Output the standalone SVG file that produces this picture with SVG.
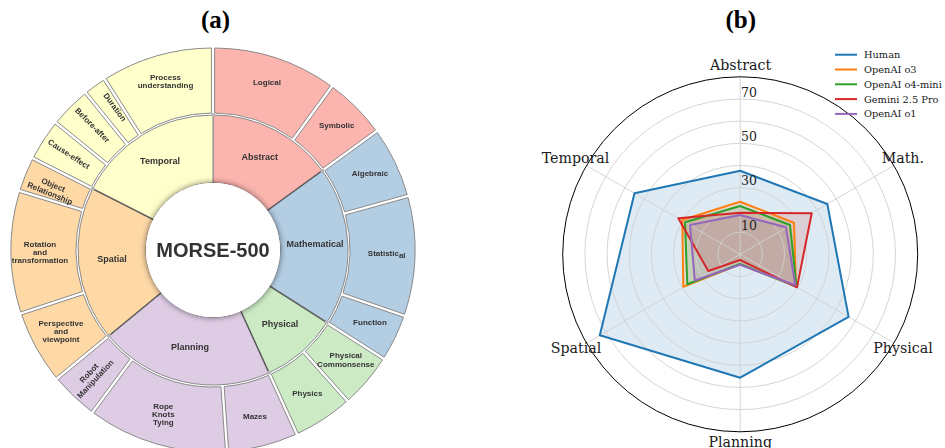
<svg xmlns="http://www.w3.org/2000/svg" width="945" height="448" viewBox="0 0 945 448">
<style>
.seg{stroke:#8a8a8a;stroke-width:1;stroke-linejoin:round}
.ab{fill:#fbb4ae}.ma{fill:#b3cde3}.ph{fill:#ccebc5}.pl{fill:#decbe4}.sp{fill:#fed9a6}.te{fill:#ffffcc}
.lbl{font-family:"Liberation Sans",Arial,sans-serif;font-weight:bold;fill:#333;text-anchor:middle}
.in{font-size:9px}.out{font-size:8px}
.ser{font-family:"DejaVu Serif",serif;fill:#1a1a1a}
.ax{font-size:14.2px}
.tick{font-size:12.5px;fill:#262626}
.leg{font-size:9.8px}
.grid{fill:none;stroke:#d0d0d0;stroke-width:0.9}
.shl{stroke:#333;stroke-width:1.6;opacity:0.55}
.title{font-family:"Liberation Serif","Times New Roman",serif;font-weight:bold;font-size:25px;fill:#000;text-anchor:middle}
</style>
<defs>
<filter id="sh" x="-30%" y="-30%" width="160%" height="160%"><feDropShadow dx="0" dy="0" stdDeviation="3" flood-color="#000" flood-opacity="0.6"/></filter>
<filter id="bl" x="-10%" y="-10%" width="120%" height="120%"><feGaussianBlur stdDeviation="0.7"/></filter>
</defs>
<rect width="945" height="448" fill="#fff"/>
<text class="title" x="215.5" y="28">(a)</text>
<text class="title" x="740.7" y="28">(b)</text>

<!-- Sunburst: inner ring -->
<g id="inner-ring">
<g id="n-abstract"><path class="seg ab" d="M213,115 A135,135 0 0 1 322.22,170.65 L267.2,210.62 A67,67 0 0 0 213,183 Z"/></g>
<g id="n-mathematical"><path class="seg ma" d="M322.22,170.65 A135,135 0 0 1 326.86,322.54 L269.51,286 A67,67 0 0 0 267.2,210.62 Z"/></g>
<g id="n-physical"><path class="seg ph" d="M326.86,322.54 A135,135 0 0 1 268.98,372.85 L240.78,310.97 A67,67 0 0 0 269.51,286 Z"/></g>
<g id="n-planning"><path class="seg pl" d="M268.98,372.85 A135,135 0 0 1 108.83,335.87 L161.3,292.62 A67,67 0 0 0 240.78,310.97 Z"/></g>
<g id="n-spatial"><path class="seg sp" d="M108.83,335.87 A135,135 0 0 1 92.71,188.71 L153.3,219.58 A67,67 0 0 0 161.3,292.62 Z"/></g>
<g id="n-temporal"><path class="seg te" d="M92.71,188.71 A135,135 0 0 1 213,115 L213,183 A67,67 0 0 0 153.3,219.58 Z"/></g>
</g>
<g id="inner-shadows" filter="url(#bl)">
<line class="shl" x1="267.2" y1="210.62" x2="322.22" y2="170.65"/>
<line class="shl" x1="269.51" y1="286" x2="326.86" y2="322.54"/>
<line class="shl" x1="240.78" y1="310.97" x2="268.98" y2="372.85"/>
<line class="shl" x1="161.3" y1="292.62" x2="108.83" y2="335.87"/>
<line class="shl" x1="153.3" y1="219.58" x2="92.71" y2="188.71"/>
</g>
<g id="junctions" fill="#b5b5b5">
<circle cx="213" cy="115" r="2"/><circle cx="322.22" cy="170.65" r="2"/><circle cx="326.86" cy="322.54" r="2"/>
<circle cx="268.98" cy="372.85" r="2"/><circle cx="108.83" cy="335.87" r="2"/><circle cx="92.71" cy="188.71" r="2"/>
</g>
<g id="n-center">
<circle cx="213" cy="250" r="67" fill="#fff" filter="url(#sh)"/>
<circle cx="213" cy="250" r="67" fill="#fff"/>
<text class="lbl" x="213" y="257.3" style="font-size:20px;fill:#333">MORSE-500</text>
</g>

<!-- Sunburst: outer ring -->
<g id="outer-ring">
<g id="n-logical"><path class="seg ab" d="M214.6,48 A202,202 0 0 1 330.45,85.64 L292.24,138.23 A137,137 0 0 0 214.6,113 Z"/></g>
<g id="n-symbolic"><path class="seg ab" d="M333.03,87.52 A202,202 0 0 1 375.48,129.97 L322.89,168.18 A137,137 0 0 0 294.82,140.11 Z"/></g>
<g id="n-algebraic"><path class="seg ma" d="M377.36,132.55 A202,202 0 0 1 407.22,194.49 L344.58,211.85 A137,137 0 0 0 324.77,170.76 Z"/></g>
<g id="n-statistical"><path class="seg ma" d="M408.08,197.57 A202,202 0 0 1 404.51,314.26 L343.05,293.1 A137,137 0 0 0 345.44,214.93 Z"/></g>
<g id="n-function"><path class="seg ma" d="M403.47,317.28 A202,202 0 0 1 384.23,357.18 L329.41,322.26 A137,137 0 0 0 342.01,296.12 Z"/></g>
<g id="n-physcommon"><path class="seg ph" d="M382.51,359.88 A202,202 0 0 1 348.56,399.75 L305.32,351.22 A137,137 0 0 0 327.69,324.96 Z"/></g>
<g id="n-physics"><path class="seg ph" d="M346.18,401.87 A202,202 0 0 1 298.23,433.16 L271.27,374.01 A137,137 0 0 0 302.94,353.34 Z"/></g>
<g id="n-mazes"><path class="seg pl" d="M295.31,434.48 A202,202 0 0 1 228.7,451.41 L224.16,386.56 A137,137 0 0 0 268.35,375.33 Z"/></g>
<g id="n-rope"><path class="seg pl" d="M225.5,451.63 A202,202 0 0 1 93.85,413.12 L132.6,360.93 A137,137 0 0 0 220.96,386.78 Z"/></g>
<g id="n-robot"><path class="seg pl" d="M91.29,411.22 A202,202 0 0 1 58.16,379.72 L108.31,338.38 A137,137 0 0 0 130.04,359.03 Z"/></g>
<g id="n-perspective"><path class="seg sp" d="M56.12,377.26 A202,202 0 0 1 21.72,314.95 L83.43,294.54 A137,137 0 0 0 106.27,335.92 Z"/></g>
<g id="n-rotation"><path class="seg sp" d="M20.72,311.91 A202,202 0 0 1 19.36,192.47 L81.52,211.47 A137,137 0 0 0 82.43,291.5 Z"/></g>
<g id="n-objrel"><path class="seg sp" d="M20.3,189.41 A202,202 0 0 1 32.29,159.72 L90.2,189.23 A137,137 0 0 0 82.46,208.41 Z"/></g>
<g id="n-cause"><path class="seg te" d="M33.75,156.86 A202,202 0 0 1 55.02,124.12 L105.53,165.03 A137,137 0 0 0 91.66,186.37 Z"/></g>
<g id="n-before"><path class="seg te" d="M57.04,121.64 A202,202 0 0 1 84.64,94.04 L125.55,144.55 A137,137 0 0 0 107.55,162.55 Z"/></g>
<g id="n-duration"><path class="seg te" d="M87.12,92.02 A202,202 0 0 1 103.42,80.31 L138.25,135.19 A137,137 0 0 0 128.03,142.53 Z"/></g>
<g id="n-process"><path class="seg te" d="M106.12,78.59 A202,202 0 0 1 211.4,48 L211.4,113 A137,137 0 0 0 140.95,133.47 Z"/></g>
</g>

<!-- Sunburst labels -->
<g id="labels-inner" class="lbl in">
<text x="259.7" y="160.2">Abstract</text>
<text x="315" y="247.2">Mathematical</text>
<text x="280" y="327.2">Physical</text>
<text x="190" y="350.2">Planning</text>
<text x="112" y="262.2">Spatial</text>
<text x="160" y="163.7">Temporal</text>
</g>
<g id="labels-outer" class="lbl out">
<text x="267" y="85.2">Logical</text>
<text x="336.7" y="127.9">Symbolic</text>
<text x="370" y="176.2">Algebraic</text>
<text x="386.7" y="255.5">Statistic<tspan dy="2">al</tspan></text>
<text x="370" y="324.9">Function</text>
<text x="345.8" y="357.9">Physical</text>
<text x="345.8" y="367.2">Commonsense</text>
<text x="307.3" y="396.2">Physics</text>
<text x="255" y="418.9">Mazes</text>
<text x="163.3" y="408.9">Rope</text>
<text x="163.3" y="417.1">Knots</text>
<text x="163.3" y="425.3">Tying</text>
<text x="40" y="247.2">Rotation</text>
<text x="40" y="255.2">and</text>
<text x="40" y="263.2">transformation</text>
<text x="61" y="326.2">Perspective</text>
<text x="61" y="334.1">and</text>
<text x="61" y="342">viewpoint</text>
<text x="165.5" y="80.2">Process</text>
<text x="165.5" y="88">understanding</text>
<g transform="translate(92,376) rotate(-47)"><text x="0" y="-1.4">Robot</text><text x="0" y="7.2">Manipulation</text></g>
<g transform="translate(51.7,189) rotate(22)"><text x="0" y="-1.6">Object</text><text x="0" y="7.4">Relationship</text></g>
<g transform="translate(69,154) rotate(33)"><text x="0" y="2.9">Cause-effect</text></g>
<g transform="translate(92.5,125) rotate(45)"><text x="0" y="2.9">Before-after</text></g>
<g transform="translate(115,107) rotate(54)"><text x="0" y="2.9">Duration</text></g>
</g>

<!-- Radar chart -->
<g id="radar-fills" stroke="none">
<polygon fill="#1f77b4" fill-opacity="0.15" points="740.2,170.8 827.3,204 848.6,316.9 740.2,377.7 599.8,335.3 634.5,193.3"/>
<polygon fill="#ff7f0e" fill-opacity="0.15" points="740,201.7 794,222.7 796,286.3 740,264.3 683.3,286.7 682.3,220"/>
<polygon fill="#2ca02c" fill-opacity="0.15" points="740,206 790,225 796.5,286.6 740,264 687.3,284.3 685,222.3"/>
<polygon fill="#d62728" fill-opacity="0.15" points="740,212.7 811.7,213.3 797,287.3 740,260 708.3,271 678.3,218.3"/>
<polygon fill="#9467bd" fill-opacity="0.15" points="740,215 786,227.3 795.3,285.3 740,264.7 694.8,280.5 690,225"/>
</g>
<g id="radar-grid" class="grid">
<circle cx="740.2" cy="254.3" r="22.19"/><circle cx="740.2" cy="254.3" r="44.38"/><circle cx="740.2" cy="254.3" r="66.56"/>
<circle cx="740.2" cy="254.3" r="88.75"/><circle cx="740.2" cy="254.3" r="110.94"/><circle cx="740.2" cy="254.3" r="133.13"/>
<circle cx="740.2" cy="254.3" r="155.31"/>
<line x1="740.2" y1="76.8" x2="740.2" y2="431.8"/>
<line x1="893.9" y1="165.55" x2="586.5" y2="343.05"/>
<line x1="893.9" y1="343.05" x2="586.5" y2="165.55"/>
</g>
<circle id="radar-spine" cx="740.2" cy="254.3" r="177.5" fill="none" stroke="#000" stroke-width="1"/>
<g id="radar-lines" fill="none" stroke-width="2" stroke-linejoin="round">
<polygon stroke="#1f77b4" points="740.2,170.8 827.3,204 848.6,316.9 740.2,377.7 599.8,335.3 634.5,193.3"/>
<polygon stroke="#ff7f0e" points="740,201.7 794,222.7 796,286.3 740,264.3 683.3,286.7 682.3,220"/>
<polygon stroke="#2ca02c" points="740,206 790,225 796.5,286.6 740,264 687.3,284.3 685,222.3"/>
<polygon stroke="#d62728" points="740,212.7 811.7,213.3 797,287.3 740,260 708.3,271 678.3,218.3"/>
<polygon stroke="#9467bd" points="740,215 786,227.3 795.3,285.3 740,264.7 694.8,280.5 690,225"/>
</g>
<g id="radar-ticks" class="ser tick">
<text x="741" y="96.7">70</text>
<text x="741" y="141">50</text>
<text x="741" y="185">30</text>
<text x="741" y="230">10</text>
</g>
<g id="radar-axes" class="ser ax">
<text x="740.5" y="69.5" text-anchor="middle">Abstract</text>
<text x="881.7" y="163.3">Math.</text>
<text x="873.3" y="353.3">Physical</text>
<text x="740.2" y="447.3" text-anchor="middle">Planning</text>
<text x="550.7" y="353.3">Spatial</text>
<text x="541.7" y="163.3">Temporal</text>
</g>
<g id="legend" class="ser leg">
<line x1="835" y1="54.7" x2="857" y2="54.7" stroke="#1f77b4" stroke-width="2"/><text x="864" y="58.2">Human</text>
<line x1="835" y1="69.5" x2="857" y2="69.5" stroke="#ff7f0e" stroke-width="2"/><text x="864" y="73">OpenAI o3</text>
<line x1="835" y1="84.3" x2="857" y2="84.3" stroke="#2ca02c" stroke-width="2"/><text x="864" y="87.8">OpenAI o4-mini</text>
<line x1="835" y1="99.1" x2="857" y2="99.1" stroke="#d62728" stroke-width="2"/><text x="864" y="102.6">Gemini 2.5 Pro</text>
<line x1="835" y1="113.9" x2="857" y2="113.9" stroke="#9467bd" stroke-width="2"/><text x="864" y="117.4">OpenAI o1</text>
</g>
</svg>
